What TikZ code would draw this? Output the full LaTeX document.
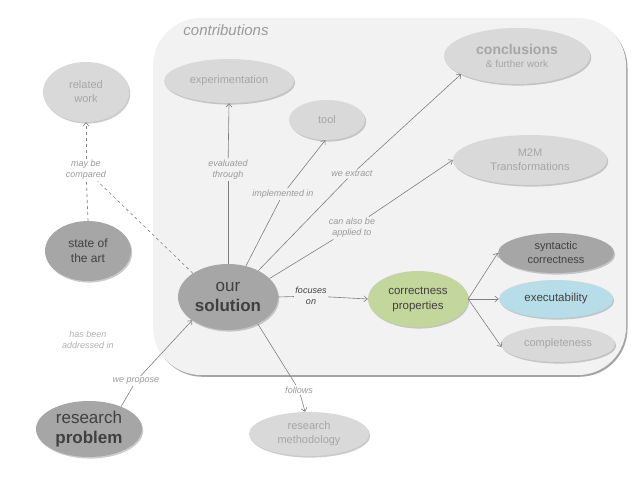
\documentclass[tikz,border=0pt]{standalone}
\usepackage{fontspec}
\setmainfont{Liberation Sans}
\usetikzlibrary{shapes.geometric,shadows,arrows.meta}
\definecolor{pcFFFFFF}{HTML}{FFFFFF}
\definecolor{pcF2F2F2}{HTML}{F2F2F2}
\definecolor{pcD9D9D9}{HTML}{D9D9D9}
\definecolor{pcA6A6A6}{HTML}{A6A6A6}
\definecolor{pcB2B2B2}{HTML}{B2B2B2}
\definecolor{pc9A9A9A}{HTML}{9A9A9A}
\definecolor{pc7F7F7F}{HTML}{7F7F7F}
\definecolor{pc404040}{HTML}{404040}
\definecolor{pcC3D69B}{HTML}{C3D69B}
\definecolor{pcB7DEE8}{HTML}{B7DEE8}

\begin{document}
\begin{tikzpicture}[
  bubble/.style={ellipse, inner sep=0, align=center,
    drop shadow={shadow xshift=1.2bp, shadow yshift=-1.6bp, fill=pc7F7F7F, opacity=0.4}},
  lightbubble/.style={bubble, fill=pcD9D9D9, text=pcA6A6A6},
  darkbubble/.style={bubble, fill=pcA6A6A6, text=pc404040},
  edgelabel/.style={inner sep=1.5bp, align=center, text=pc9A9A9A,
    font=\itshape\fontsize{9bp}{11bp}\selectfont},
  link/.style={line width=0.6bp, draw=pc7F7F7F},
  arrowlink/.style={link, -{Straight Barb[length=3.5bp, width=6bp]}},
  dashlink/.style={link, dashed},
]
\path[use as bounding box] (0bp,0bp) rectangle (638bp,479bp);
\path[fill=pcFFFFFF] (0bp,0bp) rectangle (638bp,479bp);

% contributions frame
\path[fill=pcF2F2F2, rounded corners=48bp,
  drop shadow={shadow xshift=1.5bp, shadow yshift=-1.8bp, fill=pc7F7F7F, opacity=0.7}]
  (153bp,104bp) rectangle (626bp,461bp);
\node[anchor=center, inner sep=0, text=pc9A9A9A] (contrib) at (226bp,449bp)
  {\itshape\fontsize{15bp}{17bp}\selectfont contributions};

% bubbles
\node[lightbubble, minimum width=86bp, minimum height=60bp,
  font=\fontsize{11bp}{14bp}\selectfont] (relwork) at (86bp,387bp) {related\\work};
\node[lightbubble, minimum width=130bp, minimum height=44bp,
  font=\fontsize{11bp}{14bp}\selectfont] (exper) at (229bp,398bp) {experimentation};
\node[lightbubble, minimum width=76bp, minimum height=40bp,
  font=\fontsize{11bp}{14bp}\selectfont] (tool) at (327bp,359bp) {tool};
\node[lightbubble, minimum width=146bp, minimum height=56bp,
  font=\fontsize{10bp}{13bp}\selectfont] (concl) at (517bp,423bp)
  {{\bfseries\fontsize{14bp}{16bp}\selectfont conclusions}\\\& further work};
\node[lightbubble, minimum width=154bp, minimum height=50bp,
  font=\fontsize{11bp}{14bp}\selectfont] (mtwom) at (530bp,319bp) {M2M\\Transformations};
\node[darkbubble, minimum width=86bp, minimum height=60bp,
  font=\fontsize{12bp}{15bp}\selectfont] (soa) at (88bp,228bp) {state of\\the art};
\node[darkbubble, minimum width=100bp, minimum height=66bp,
  font=\fontsize{17bp}{20bp}\selectfont] (sol) at (228bp,182bp) {our\\\bfseries solution};
\node[bubble, fill=pcC3D69B, text=pc404040, minimum width=100bp, minimum height=56bp,
  font=\fontsize{11.5bp}{15bp}\selectfont] (corr) at (418bp,180bp) {correctness\\properties};
\node[darkbubble, minimum width=116bp, minimum height=40bp,
  font=\fontsize{11bp}{14bp}\selectfont] (synt) at (556bp,226bp) {syntactic\\correctness};
\node[bubble, fill=pcB7DEE8, text=pc404040, minimum width=114bp, minimum height=38bp,
  font=\fontsize{11.5bp}{14bp}\selectfont] (exec) at (556bp,180bp) {executability};
\node[lightbubble, minimum width=114bp, minimum height=36bp,
  font=\fontsize{11bp}{14bp}\selectfont] (compl) at (558bp,135bp) {completeness};
\node[darkbubble, minimum width=106bp, minimum height=56bp,
  font=\fontsize{17bp}{20bp}\selectfont] (rprob) at (89bp,50bp) {research\\\bfseries problem};
\node[lightbubble, minimum width=120bp, minimum height=44bp,
  font=\fontsize{11bp}{14bp}\selectfont] (rmeth) at (309bp,45bp) {research\\methodology};

% labels
\node[edgelabel] (mbc) at (86bp,309bp) {may be\\compared};
\node[edgelabel] (evth) at (228bp,309bp) {evaluated\\through};
\node[edgelabel] (implin) at (283bp,285bp) {implemented in};
\node[edgelabel] (wextr) at (352bp,305bp) {we extract};
\node[edgelabel] (appl) at (352bp,251bp) {can also be\\applied to};
\node[edgelabel, text=pc404040] (focon) at (311bp,183bp) {focuses\\on};
\node[edgelabel, text=pcB2B2B2] (addr) at (88bp,139bp) {has been\\addressed in};
\node[edgelabel] (wprop) at (136bp,98bp) {we propose};
\node[edgelabel] (follows) at (299bp,89bp) {follows};

% connectors
\draw[dashlink] (soa.north) -- (mbc);
\draw[dashlink, -{Straight Barb[length=3.5bp, width=6bp]}] (mbc) -- (relwork.south);
\draw[dashlink] (sol.146) -- (mbc);
\draw[link] (sol.north) -- (evth);
\draw[arrowlink] (evth) -- (exper.south);
\draw[link] (sol.60) -- (implin);
\draw[arrowlink] (implin) -- (tool.265);
\draw[link] (sol.41) -- (wextr);
\draw[arrowlink] (wextr) -- (concl.198);
\draw[link] (sol.24) -- (appl);
\draw[arrowlink] (appl) -- (mtwom.west);
\draw[link] (sol.east) -- (focon);
\draw[arrowlink] (focon) -- (corr.west);
\draw[arrowlink] (corr.east) -- (synt.west);
\draw[arrowlink] (corr.east) -- (exec.west);
\draw[arrowlink] (corr.east) -- (compl.183);
\draw[link] (rprob.35) -- (wprop);
\draw[arrowlink] (wprop) -- (sol.213);
\draw[link] (sol.318) -- (follows);
\draw[arrowlink] (follows) -- (rmeth.100);
\end{tikzpicture}
\end{document}
